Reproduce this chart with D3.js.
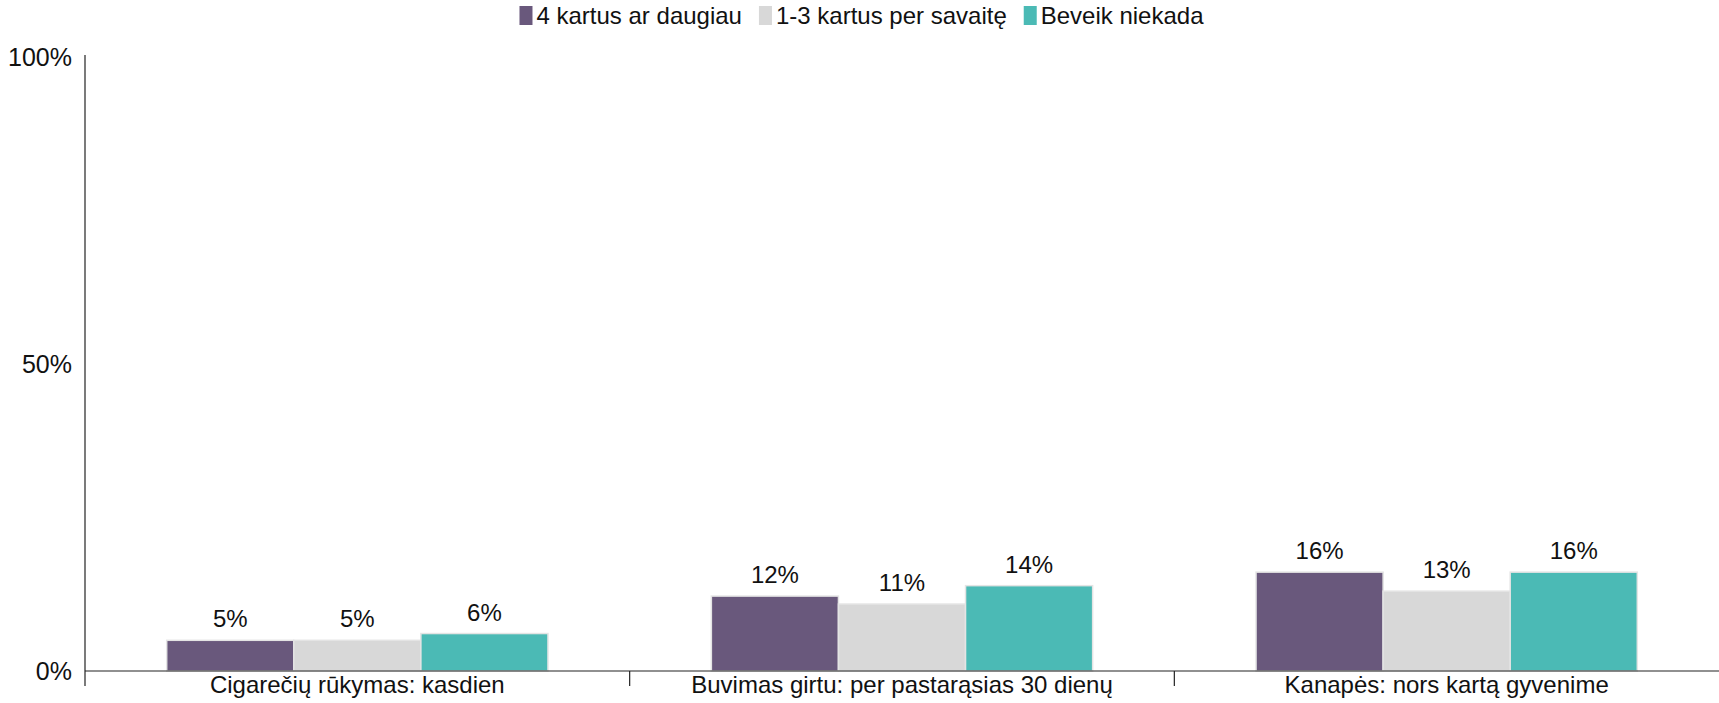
<!DOCTYPE html>
<html>
<head>
<meta charset="utf-8">
<script src="https://cdn.jsdelivr.net/npm/d3@7"></script>
<style>
  body { margin: 0; background: #fff; }
  text { font-family: "Liberation Sans", Arial, sans-serif; fill: #111; }
</style>
</head>
<body>
<div id="chart"></div>
<script>
// data
const categories = ["Cigarečių rūkymas: kasdien", "Buvimas girtu: per pastarąsias 30 dienų", "Kanapės: nors kartą gyvenime"];
const seriesNames = ["4 kartus ar daugiau", "1-3 kartus per savaitę", "Beveik niekada"];
const seriesColors = ["#69587c", "#d8d8d8", "#4bbab5"];
const values4plus = [5.0, 12.2, 16.1];
const values1to3 = [5.0, 10.9, 13.0];
const valuesNever = [6.1, 13.9, 16.1];
const yTicks = [0, 50, 100];

const series = [values4plus, values1to3, valuesNever];

// dimensions
const W = 1719, H = 703;
const margin = {top: 57, right: 0, bottom: 32, left: 85};
const baseY = H - margin.bottom;

const svg = d3.select("#chart")
  .append("svg")
    .attr("width", W)
    .attr("height", H);

// scales
const x = d3.scaleBand()
  .domain(categories)
  .range([margin.left, W - margin.right])
  .paddingInner(0.3)
  .paddingOuter(0.15);

const xs = d3.scaleBand()
  .domain(seriesNames)
  .range([0, x.bandwidth()]);

const y = d3.scaleLinear()
  .domain([0, 100])
  .range([baseY, margin.top]);

// y axis
svg.append("line")
  .attr("x1", margin.left).attr("x2", margin.left)
  .attr("y1", y(100) - 2).attr("y2", baseY + 15)
  .attr("stroke", "#222").attr("stroke-width", 1.2);

svg.append("g")
  .selectAll("text")
  .data(yTicks)
  .join("text")
    .attr("x", margin.left - 13)
    .attr("y", d => y(d))
    .attr("dy", "0.35em")
    .attr("text-anchor", "end")
    .style("font-size", "25px")
    .text(d => d + "%");

// bars
const groups = svg.append("g")
  .selectAll("g")
  .data(categories)
  .join("g")
    .attr("transform", c => `translate(${x(c)},0)`);

groups.selectAll("rect")
  .data((c, i) => seriesNames.map((s, j) => ({s, j, v: series[j][i]})))
  .join("rect")
    .attr("x", d => xs(d.s))
    .attr("y", d => y(d.v))
    .attr("width", xs.bandwidth())
    .attr("height", d => baseY - y(d.v))
    .attr("fill", d => seriesColors[d.j])
    .attr("stroke", "#e4e4e4")
    .attr("stroke-width", 1.5);

groups.selectAll("text")
  .data((c, i) => seriesNames.map((s, j) => ({s, j, v: series[j][i]})))
  .join("text")
    .attr("x", d => xs(d.s) + xs.bandwidth() / 2)
    .attr("y", d => y(d.v) - 13)
    .attr("text-anchor", "middle")
    .style("font-size", "24px")
    .text(d => Math.round(d.v) + "%");

// x axis
svg.append("line")
  .attr("x1", margin.left).attr("x2", W)
  .attr("y1", baseY).attr("y2", baseY)
  .attr("stroke", "#222").attr("stroke-width", 1.2);

const gap = x.step() * x.paddingInner() / 2;
svg.append("g")
  .selectAll("line")
  .data(categories.slice(1))
  .join("line")
    .attr("x1", c => x(c) - gap).attr("x2", c => x(c) - gap)
    .attr("y1", baseY).attr("y2", baseY + 15)
    .attr("stroke", "#222").attr("stroke-width", 1.2);

svg.append("g")
  .selectAll("text")
  .data(categories)
  .join("text")
    .attr("x", c => x(c) + x.bandwidth() / 2)
    .attr("y", baseY + 22)
    .attr("text-anchor", "middle")
    .style("font-size", "24px")
    .text(c => c);

// legend
const legend = svg.append("g");
let lx = 0;
seriesNames.forEach((s, j) => {
  const item = legend.append("g").attr("transform", `translate(${lx},0)`);
  item.append("rect")
    .attr("x", 0).attr("y", 6)
    .attr("width", 13).attr("height", 19)
    .attr("fill", seriesColors[j]);
  const t = item.append("text")
    .attr("x", 17).attr("y", 24)
    .style("font-size", "24px")
    .text(s);
  lx += 17 + t.node().getComputedTextLength() + 17;
});
legend.attr("transform", `translate(${(W + 4 - (lx - 17)) / 2},0)`);
</script>
</body>
</html>
